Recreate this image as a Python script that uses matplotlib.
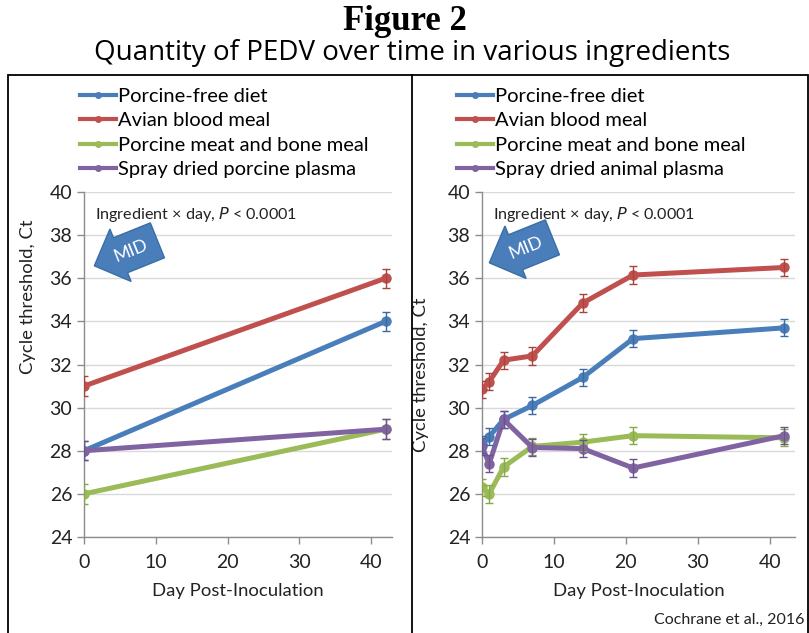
import matplotlib
matplotlib.use("Agg")
import matplotlib.pyplot as plt
from matplotlib.patches import Rectangle
from matplotlib.lines import Line2D

# ---------------- data ----------------
series_names_left = ["Porcine-free diet", "Avian blood meal",
                     "Porcine meat and bone meal", "Spray dried porcine plasma"]
series_names_right = ["Porcine-free diet", "Avian blood meal",
                      "Porcine meat and bone meal", "Spray dried animal plasma"]
colors = ["#4a7ebb", "#c0504d", "#9bbb59", "#8064a2"]
err_colors = ["#3b6aa0", "#a84440", "#86a84a", "#6d5290"]

left_days = [0, 42]
left_free = [28.0, 34.0]
left_avian = [31.0, 36.0]
left_mbm = [26.0, 29.0]
left_sdp = [28.0, 29.0]
left_err = [0.45, 0.45]

right_days = [0, 1, 3, 7, 14, 21, 42]
right_free = [28.3, 28.65, 29.45, 30.1, 31.4, 33.2, 33.7]
right_avian = [30.85, 31.2, 32.2, 32.4, 34.85, 36.15, 36.5]
right_mbm = [26.3, 26.0, 27.25, 28.2, 28.4, 28.7, 28.6]
right_sdp = [28.2, 27.4, 29.45, 28.15, 28.1, 27.2, 28.7]
right_err = [0.4, 0.4, 0.4, 0.4, 0.4, 0.4, 0.4]

y_ticks = [24, 26, 28, 30, 32, 34, 36, 38, 40]
x_ticks = [0, 10, 20, 30, 40]

FONT = "Lato"
plt.rcParams['font.family'] = [FONT, 'DejaVu Sans']

W, H = 809, 633
fig = plt.figure(figsize=(W / 100, H / 100), dpi=100)


def fx(px):
    return px / W


def fy(py):
    return 1 - py / H


# titles
fig.text(fx(405), fy(21), "Figure 2", ha="center", va="center",
         fontsize=25, fontweight="bold", family="Liberation Serif")
fig.text(fx(412), fy(53), "Quantity of PEDV over time in various ingredients",
         ha="center", va="center", fontsize=20, family="Open Sans")

# panel boxes
fig.add_artist(Rectangle((fx(8), fy(640)), fx(808) - fx(8), fy(75) - fy(640),
                         transform=fig.transFigure, fill=False, ec="black", lw=1.3))
fig.add_artist(Line2D([fx(412), fx(412)], [fy(75), fy(640)],
                      transform=fig.transFigure, color="black", lw=1.3))


def make_panel(left_px, right_px, days, data, errs, names, xmax, legend_x,
               arrow_xy, ylabel_y):
    ax = fig.add_axes([fx(left_px), fy(537), fx(right_px) - fx(left_px), fy(192) - fy(537)])
    for vals, c, ec, name in zip(data, colors, err_colors, names):
        ax.plot(days, vals, color=c, lw=3.6, marker="o", ms=6.5, label=name,
                solid_capstyle="round", zorder=3)
        ax.errorbar(days, vals, yerr=errs, fmt="none", ecolor=ec, elinewidth=1.0,
                    capsize=3, capthick=1.0, zorder=4)
    ax.set_xlim(0, xmax)
    ax.set_ylim(24, 40)
    ax.set_yticks(y_ticks)
    ax.set_xticks(x_ticks)
    ax.yaxis.grid(True, color="#d9d9d9", lw=1.0)
    ax.set_axisbelow(True)
    for s in ["top", "right"]:
        ax.spines[s].set_visible(False)
    for s in ["left", "bottom"]:
        ax.spines[s].set_color("#8c8c8c")
        ax.spines[s].set_linewidth(1.0)
    ax.tick_params(axis="both", colors="#8c8c8c", labelcolor="#222222",
                   labelsize=14, length=5, width=1.0, direction="out")
    ax.tick_params(axis="x", pad=7)
    ax.set_xlabel("Day Post-Inoculation", fontsize=13.3, color="#222222", labelpad=9)
    ax.set_ylabel("Cycle threshold, Ct", fontsize=13.3, color="#222222")
    ax.yaxis.set_label_coords(-0.155 if left_px < 400 else -0.17,
                              (537 - ylabel_y) / (537 - 192))
    ax.text(0.035, 0.935, r"Ingredient × day, $\it{P}$ < 0.0001", transform=ax.transAxes,
            fontsize=11.6, color="#222222", va="center", ha="left")
    ax.text(fx(arrow_xy[0]), fy(arrow_xy[1]), "MID", transform=fig.transFigure,
            rotation=22, ha="center", va="center", color="white", fontsize=13,
            bbox=dict(boxstyle="larrow,pad=0.6", fc="#4a7ebb", ec="#3a6ea5", lw=1.0))
    handles = [Line2D([0], [0], color=c, lw=3, marker="o", ms=4) for c in colors]
    fig.legend(handles, names, loc="upper left",
               bbox_to_anchor=(fx(legend_x), fy(88)), bbox_transform=fig.transFigure,
               frameon=False, fontsize=14.5, handlelength=1.8, handletextpad=0.1,
               labelspacing=0.36, borderpad=0, borderaxespad=0)
    return ax


make_panel(84, 392, left_days, [left_free, left_avian, left_mbm, left_sdp],
           left_err, series_names_left, 42.9, 80, (131, 251), 297)
make_panel(482, 795, right_days, [right_free, right_avian, right_mbm, right_sdp],
           right_err, series_names_right, 43.5, 457, (526, 248), 375)

fig.text(fx(804), fy(620), "Cochrane et al., 2016", ha="right", va="center",
         fontsize=11.5, color="#222222")

fig.savefig("out.png", dpi=100, facecolor="white")
